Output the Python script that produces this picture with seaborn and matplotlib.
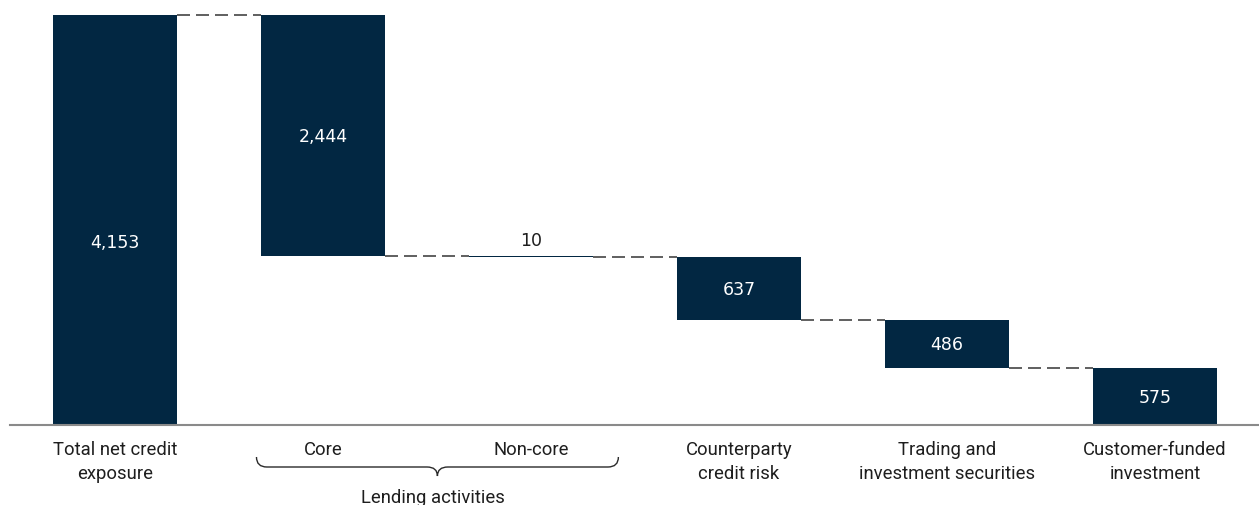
import numpy as np
import pandas as pd
import matplotlib
matplotlib.use("Agg")
import matplotlib.pyplot as plt
import seaborn as sns
from matplotlib.path import Path
from matplotlib.patches import PathPatch
from matplotlib.transforms import blended_transform_factory

# ---------------- data ----------------
categories = ["Total net credit\nexposure", "Core", "Non-core",
              "Counterparty\ncredit risk", "Trading and\ninvestment securities",
              "Customer-funded\ninvestment"]
values = [4153, 2444, 10, 637, 486, 575]
value_labels = ["4,153", "2,444", "10", "637", "486", "575"]
group_label = "Lending activities"
group_members = ["Core", "Non-core"]

# ---------------- style ----------------
NAVY = "#022742"
TEXT = "#1e1e1e"
sns.set_theme(style="white")
plt.rcParams["font.family"] = ["Roboto", "DejaVu Sans"]

W, H = 1259, 506
fig = plt.figure(figsize=(W / 100, H / 100), dpi=100)
ax = fig.add_axes([10 / W, (H - 426) / H, (W - 10) / W, (426 - 16) / H])

# waterfall bottoms
total = values[0]
bottoms = [0]
running = total
for v in values[1:]:
    running -= v
    bottoms.append(running)
bottoms = np.array(bottoms, dtype=float)
tops = bottoms + np.array(values)

df = pd.DataFrame({"cat": categories, "value": values})
bar_w = 0.6
sns.barplot(data=df, x="cat", y="value", order=categories, color=NAVY,
            saturation=1, width=bar_w, errorbar=None, bottom=bottoms,
            linewidth=0, ax=ax)

ax.set_xlim(-0.505, len(categories) - 0.5)
ax.set_ylim(0, total)
ax.set_xlabel("")
ax.set_ylabel("")
ax.set_yticks([])

for s in ["left", "right", "top"]:
    ax.spines[s].set_visible(False)
ax.spines["bottom"].set_color("#8a8a8a")
ax.spines["bottom"].set_linewidth(1.5)

ax.set_xticks(range(len(categories)))
ax.set_xticklabels(categories, fontsize=13.3, color=TEXT, linespacing=1.38)
ax.tick_params(axis="x", length=0, pad=11)

# connectors
for i in range(len(values) - 1):
    y = tops[i + 1]
    ax.plot([i + bar_w / 2, i + 1 - bar_w / 2], [y, y], color="#444444",
            lw=1.2, linestyle=(0, (7.8, 3.6)), zorder=0.5, clip_on=False)

# value labels
for i, (b, v, lab) in enumerate(zip(bottoms, values, value_labels)):
    if i == 0:
        ax.text(i, v * 0.446, lab, ha="center", va="center", color="white",
                fontsize=12.5, family="DejaVu Sans")
    elif v < 100:
        ax.annotate(lab, (i, b + v), xytext=(0, 5.5), textcoords="offset points",
                    ha="center", va="bottom", color=TEXT, fontsize=12.5,
                    family="DejaVu Sans")
    else:
        ax.text(i, b + v / 2, lab, ha="center", va="center", color="white",
                fontsize=12.5, family="DejaVu Sans")

# brace under the grouped categories
i0 = categories.index(group_members[0])
i1 = categories.index(group_members[1])
x0 = i0 - bar_w / 2 - 0.02
x1 = i1 + bar_w / 2 + 0.12
xm = (x0 + x1) / 2
tr = blended_transform_factory(ax.transData, fig.transFigure)
yt = (H - 458) / H
yl = (H - 468) / H
yb = (H - 477) / H
dx = 0.05
verts = [(x0, yt), (x0, yl), (x0 + dx, yl),
         (xm - dx, yl),
         (xm, yl), (xm, yb),
         (xm, yl), (xm + dx, yl),
         (x1 - dx, yl),
         (x1, yl), (x1, yt)]
codes = [Path.MOVETO, Path.CURVE3, Path.CURVE3,
         Path.LINETO,
         Path.CURVE3, Path.CURVE3,
         Path.CURVE3, Path.CURVE3,
         Path.LINETO,
         Path.CURVE3, Path.CURVE3]
brace = PathPatch(Path(verts, codes), transform=tr, fill=False,
                  edgecolor="#2a2a2a", lw=1.0, clip_on=False)
fig.add_artist(brace)
fig.text(xm - 0.02, (H - 503.5) / H, group_label, transform=tr,
         ha="center", va="baseline", fontsize=13.3, color=TEXT)

fig.savefig("out.png", dpi=100)
